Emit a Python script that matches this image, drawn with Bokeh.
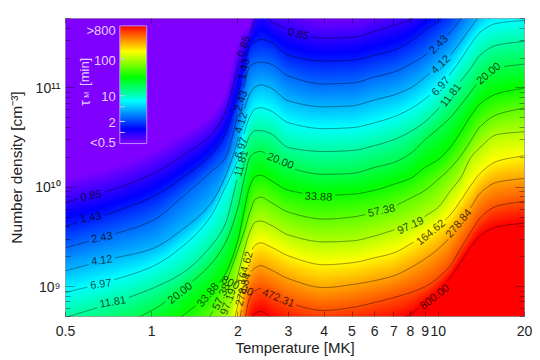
import numpy as np
from bokeh.plotting import figure
from bokeh.models import FixedTicker, LogAxis
from bokeh.core.properties import value
from bokeh.embed import file_html
from bokeh.resources import INLINE

FONT = "Liberation Sans"

# temperature columns [MK] at which each contour was read
temps = [0.5,0.7,1,1.3,1.6,1.8,2,2.1,2.2,2.3,2.4,2.6,3,4,5,6,7,8,9,10,11,12,13,14,16,20]
levels = [0.85,1.43,2.43,4.12,6.97,11.81,20.0,33.88,57.38,97.19,164.62,278.84,472.31,800.0]

# log10 number density of each contour at those temperatures
c_085 = [9.85,9.96,10.13,10.33,10.52,10.74,11.21,11.40,11.54,11.69,11.77,11.67,11.59,11.50,11.51,11.57,11.63,11.69,11.79,11.91,12.02,12.16,12.30,12.42,12.57,12.60]
c_143 = [9.61,9.73,9.90,10.11,10.32,10.53,10.94,11.19,11.42,11.47,11.49,11.46,11.33,11.27,11.28,11.33,11.38,11.47,11.58,11.68,11.79,11.93,12.07,12.19,12.34,12.37]
c_243 = [9.39,9.51,9.66,9.92,10.15,10.29,10.74,11.02,11.22,11.25,11.26,11.24,11.12,11.04,11.05,11.11,11.16,11.24,11.33,11.45,11.56,11.70,11.84,11.96,12.11,12.14]
c_412 = [9.16,9.27,9.38,9.59,9.83,10.10,10.49,10.77,10.94,11.01,11.03,11.00,10.87,10.81,10.82,10.88,10.93,11.00,11.11,11.22,11.33,11.47,11.61,11.73,11.88,11.91]
c_697 = [8.94,9.05,9.20,9.42,9.70,9.99,10.29,10.54,10.71,10.79,10.80,10.77,10.65,10.59,10.60,10.65,10.71,10.79,10.89,11.00,11.14,11.29,11.44,11.56,11.65,11.68]
c_1181 = [8.69,8.82,8.98,9.15,9.40,9.62,10.12,10.35,10.52,10.57,10.57,10.54,10.40,10.36,10.37,10.42,10.48,10.56,10.66,10.79,10.92,11.07,11.20,11.33,11.43,11.47]
c_2000 = [8.44,8.56,8.76,8.99,9.22,9.43,9.80,10.08,10.30,10.35,10.36,10.30,10.20,10.13,10.14,10.20,10.25,10.34,10.48,10.59,10.70,10.83,10.96,11.08,11.20,11.24]
c_3388 = [8.21,8.33,8.51,8.72,8.94,9.12,9.47,9.76,10.01,10.11,10.12,10.07,9.97,9.92,9.93,9.97,10.03,10.09,10.20,10.28,10.40,10.56,10.72,10.84,10.94,11.00]
c_5738 = [7.98,8.10,8.28,8.47,8.71,9.02,9.37,9.55,9.75,9.88,9.90,9.85,9.75,9.68,9.70,9.75,9.81,9.89,9.97,10.08,10.19,10.32,10.47,10.61,10.73,10.80]
c_9719 = [7.75,7.87,8.05,8.22,8.42,8.59,9.12,9.36,9.55,9.65,9.66,9.62,9.52,9.45,9.46,9.51,9.57,9.62,9.71,9.80,9.96,10.10,10.30,10.40,10.53,10.56]
c_16462 = [7.52,7.64,7.82,7.99,8.19,8.37,8.82,9.12,9.32,9.42,9.44,9.40,9.31,9.22,9.24,9.29,9.34,9.43,9.52,9.61,9.72,9.87,10.02,10.14,10.26,10.32]
c_27884 = [7.29,7.41,7.59,7.76,7.96,8.14,8.57,8.92,9.13,9.19,9.21,9.17,9.08,8.99,9.02,9.06,9.11,9.19,9.28,9.38,9.50,9.67,9.80,9.94,10.05,10.09]
c_47231 = [7.06,7.18,7.36,7.53,7.73,7.91,8.27,8.62,8.89,8.96,8.98,8.94,8.84,8.76,8.79,8.84,8.89,8.94,9.00,9.09,9.21,9.39,9.55,9.69,9.81,9.86]
c_80000 = [6.83,6.95,7.13,7.30,7.50,7.68,7.97,8.37,8.65,8.73,8.75,8.69,8.59,8.52,8.55,8.60,8.65,8.72,8.84,8.96,9.09,9.25,9.40,9.51,9.60,9.64]
contours = [c_085,c_143,c_243,c_412,c_697,c_1181,c_2000,c_3388,c_5738,c_9719,c_16462,c_27884,c_47231,c_80000]

# contour labels: level index, temperature, log10 density, angle
lab_level = [0,1,2,3,4,5,6,7,8,9,13,10,11, 0,1,2,3,4,5, 6,7,8,9,10,11,13,12, 6,5,4,3,2,0]
lab_temp = [0.613,0.613,0.669,0.669,0.664,0.731,1.252,1.567,1.74,1.84,1.994,2.11,2.076,
            2.09,2.09,2.043,2.043,2.043,2.043, 2.816,3.82,6.33,7.99,9.39,11.75,9.69,2.77,
            14.95,11.02,10.17,10.17,10.0,3.25]
lab_logn = [9.92,9.70,9.50,9.27,9.03,8.85,8.94,8.92,8.90,8.85,9.01,9.19,8.97,
            11.42,11.19,10.87,10.65,10.40,10.24, 10.27,9.91,9.77,9.62,9.55,9.64,8.90,8.89,
            11.15,10.93,11.02,11.24,11.44,11.55]
lab_angle = [12,10,10,8,8,10,38,50,65,70,-25,75,75,
             72,78,72,72,72,75, -22,-3,12,25,40,50,38,-22,
             40,52,48,45,45,-15]

# colour table: log10 tau -> colour
cmap_pos = [-0.30,0.07,0.83,1.50,2.20,2.90]
cmap_r = [127,0,0,0,255,255]
cmap_g = [0,0,255,255,255,0]
cmap_b = [255,255,255,0,0,0]

# colour key
key_ticks = [100,10,5,2,1]
key_labels = [">800","100","10","2","<0.5"]
key_label_logn = [11.575,11.28,10.91,10.65,10.45]
KEY_COLOR = "#e4d0ff"
key_left, key_right, key_tick_end, key_text_x = 0.7735, 0.9607, 0.805, 0.749
key_lo, key_hi = 10.44, 11.625

x_ticks = [0.5,1,2,3,4,5,6,7,8,9,10,20]
y_major = [10**9,10**10,10**11]
y_labels = ["10⁹","10¹⁰","10¹¹"]
y_minor = [m*10**e for e in (8,9,10,11) for m in range(2,10) if 5e8 <= m*10**e <= 5e11]

XMIN, XMAX, YMIN, YMAX = 0.5, 20.0, 5e8, 5e11
W, H = 460, 298
CW, CH = 538, 358
FL, FB = 65, 316  # frame left and bottom on the page


def pchip(x, y, q):
    x = np.asarray(x, float); y = np.asarray(y, float)
    h = np.diff(x); d = np.diff(y)/h
    m = np.zeros_like(y); m[0] = d[0]; m[-1] = d[-1]
    for i in range(1, len(x)-1):
        if d[i-1]*d[i] > 0:
            w1 = 2*h[i]+h[i-1]; w2 = h[i]+2*h[i-1]
            m[i] = (w1+w2)/(w1/d[i-1]+w2/d[i])
    idx = np.clip(np.searchsorted(x, q)-1, 0, len(h)-1)
    t = (q-x[idx])/h[idx]
    return ((2*t**3-3*t**2+1)*y[idx] + (t**3-2*t**2+t)*h[idx]*m[idx]
            + (-2*t**3+3*t**2)*y[idx+1] + (t**3-t**2)*h[idx]*m[idx+1])


def colours(lt):
    r = np.interp(lt, cmap_pos, cmap_r); g = np.interp(lt, cmap_pos, cmap_g); b = np.interp(lt, cmap_pos, cmap_b)
    return (r.astype(np.uint32) | (g.astype(np.uint32) << 8) | (b.astype(np.uint32) << 16) | (255 << 24)).astype(np.uint32)


lx = np.log10(temps)
lv = np.log10(levels)
qx = np.linspace(np.log10(XMIN), np.log10(XMAX), W)
cross = np.array([pchip(lx, c, qx) for c in contours])  # levels x columns

# colour field between the contours of each column
qy = np.linspace(np.log10(YMIN), np.log10(YMAX), H)
field = np.zeros((H, W))
for j in range(W):
    ys = cross[:, j]
    ya = np.concatenate(([ys[0]+3*(ys[0]-ys[1])], ys, [ys[-1]-3*(ys[-2]-ys[-1])]))
    va = np.concatenate(([lv[0]-3*(lv[1]-lv[0])], lv, [lv[-1]+3*(lv[-1]-lv[-2])]))
    order = np.argsort(ya)
    field[:, j] = np.interp(qy, ya[order], va[order])

p = figure(width=CW, height=CH, x_axis_type="log", y_axis_type="log",
           x_range=(XMIN, XMAX), y_range=(YMIN, YMAX),
           output_backend="svg", toolbar_location=None,
           min_border_left=FL, min_border_right=CW-524, min_border_top=18, min_border_bottom=CH-FB)
p.grid.visible = False
p.outline_line_color = "#9c9c9c"
p.background_fill_color = None
p.border_fill_color = "white"

p.image_rgba(image=[colours(field)], x=XMIN, y=YMIN, dw=XMAX-XMIN, dh=YMAX-YMIN)

# contours, broken at their labels
sx = W/np.log10(XMAX/XMIN)
sy = H/np.log10(YMAX/YMIN)
fx = np.linspace(np.log10(XMIN), np.log10(XMAX), 1400)
for i, c in enumerate(contours):
    fy = pchip(lx, c, fx)
    mask = np.zeros_like(fx, bool)
    for k, lev in enumerate(lab_level):
        if lev != i:
            continue
        half = 0.5*len(f"{levels[i]:.2f}")*5.7 + 2
        dx = (fx-np.log10(lab_temp[k]))*sx
        dy = (fy-lab_logn[k])*sy
        a = np.deg2rad(lab_angle[k])
        along = dx*np.cos(a)+dy*np.sin(a)
        across = -dx*np.sin(a)+dy*np.cos(a)
        mask |= (np.abs(along) < half) & (np.abs(across) < 7)
    fyy = np.where(mask, np.nan, 10.0**fy)
    p.line(10.0**fx, fyy, line_color="black", line_alpha=0.62, line_width=0.7)

p.text(x=lab_temp, y=[10.0**v for v in lab_logn], text=[f"{levels[i]:.2f}" for i in lab_level],
       angle=lab_angle, angle_units="deg", text_align="center", text_baseline="middle",
       text_font=value(FONT), text_font_size="11px", text_color="black", text_alpha=0.75)

# colour key
kpos = np.linspace(np.log10(0.5), np.log10(800), 119)
p.image_rgba(image=[colours(kpos).reshape(-1, 1)], x=key_left, y=10**key_lo,
             dw=key_right-key_left, dh=10**key_hi-10**key_lo)
p.quad(left=key_left, right=key_right, bottom=10**key_lo, top=10**key_hi,
       fill_color=None, line_color="#b98cff", line_width=1)
to_key = lambda t: 10**(key_lo+(np.log10(t)-np.log10(0.5))/(np.log10(800)-np.log10(0.5))*(key_hi-key_lo))
p.segment(x0=[key_left]*len(key_ticks), x1=[key_tick_end]*len(key_ticks),
          y0=[to_key(t) for t in key_ticks], y1=[to_key(t) for t in key_ticks],
          line_color="#d8c0ff", line_width=1)
p.text(x=[key_text_x]*len(key_labels), y=[10**v for v in key_label_logn], text=key_labels,
       text_align="right", text_baseline="middle", text_font=value(FONT),
       text_font_size="13px", text_color=KEY_COLOR)
p.text(x=[0.584, 0.593, 0.584], y=[10**10.82, 10**10.90, 10**11.02], text=["τ", "M", "[min]"],
       angle=[90, 90, 90], angle_units="deg", text_align="left", text_baseline="alphabetic",
       text_font=value(FONT), text_font_size=["14px", "7px", "13px"], text_color=KEY_COLOR)

# axes
xa = p.xaxis[0]
ya_ = p.yaxis[0]
xa.ticker = FixedTicker(ticks=x_ticks)
ya_.ticker = FixedTicker(ticks=y_major, minor_ticks=y_minor)
xa.major_label_overrides = {t: (str(t)) for t in x_ticks}
ya_.major_label_overrides = dict(zip(y_major, y_labels))
for ax, title, tsize in ((xa, "Temperature [MK]", "15px"), (ya_, "Number density [cm⁻³]", "15.5px")):
    ax.axis_label = title
    ax.axis_label_text_font = FONT
    ax.axis_label_text_font_size = tsize
    ax.axis_label_text_font_style = "normal"
    ax.axis_label_text_color = "#222222"
    ax.major_label_text_font = FONT
    ax.major_label_text_font_size = "14px"
    ax.major_label_text_color = "#222222"
xa.major_label_standoff = 9
xa.axis_label_standoff = 0
ya_.major_label_standoff = 5
ya_.axis_label_standoff = 7

top = LogAxis(ticker=FixedTicker(ticks=x_ticks))
right = LogAxis(ticker=FixedTicker(ticks=y_major, minor_ticks=y_minor))
p.add_layout(top, "above")
p.add_layout(right, "right")
top.major_label_overrides = {t: "" for t in x_ticks}
right.major_label_overrides = {t: "" for t in y_major}
for ax in (right, top):
    ax.major_label_text_font_size = "1px"
    ax.major_label_standoff = 0
for ax in (xa, top):
    ax.major_tick_in = 5; ax.major_tick_out = 0
    ax.minor_tick_in = 0; ax.minor_tick_out = 0
for ax in (ya_, right):
    ax.major_tick_in = 9; ax.major_tick_out = 0
    ax.minor_tick_in = 5; ax.minor_tick_out = 0
for ax in (xa, ya_, top, right):
    ax.axis_line_color = None
    ax.major_tick_line_color = "black"; ax.major_tick_line_alpha = 0.55; ax.major_tick_line_width = 0.7
    ax.minor_tick_line_color = "black"; ax.minor_tick_line_alpha = 0.55; ax.minor_tick_line_width = 0.7

open("out.html", "w").write(file_html(p, INLINE))
